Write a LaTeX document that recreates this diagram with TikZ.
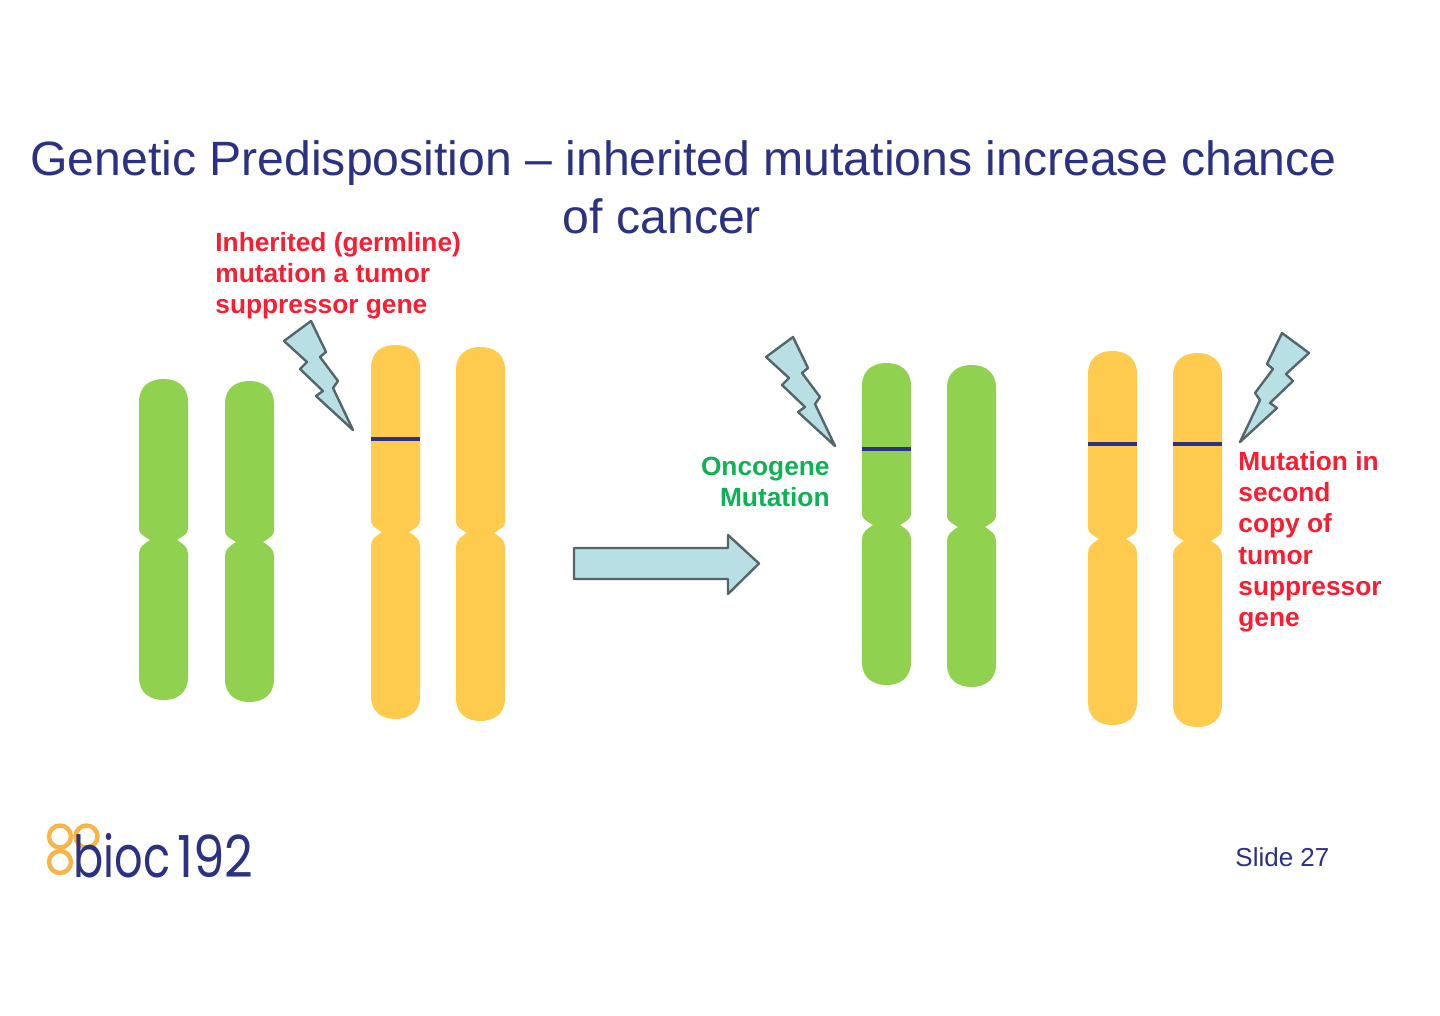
\documentclass[tikz,border=0pt]{standalone}
\usepackage{fontspec}
\setmainfont{Liberation Sans}
\newfontfamily\logofont[FakeStretch=0.77]{Poppins}
\newfontfamily\logonumfont[FakeStretch=0.86]{Poppins}
\definecolor{chromgreen}{HTML}{90D14F}
\definecolor{chromyellow}{HTML}{FECB4E}
\definecolor{navy}{HTML}{2B3183}
\definecolor{redtxt}{HTML}{FA1C30}
\definecolor{greentxt}{HTML}{0DB254}
\definecolor{paleblue}{HTML}{B8DFE4}
\definecolor{edgegrey}{HTML}{55666A}
\definecolor{logoorange}{HTML}{F9B347}
\tikzset{
  titletext/.style={inner sep=0pt,font=\fontsize{24.08}{29}\selectfont,text=navy,anchor=base},
  redlabel/.style={inner sep=0pt,font=\fontsize{13.15}{15.6}\selectfont\bfseries,text=redtxt,align=left,anchor=north west},
  greenlabel/.style={inner sep=0pt,font=\fontsize{13.15}{15.6}\selectfont\bfseries,text=greentxt,align=right,anchor=north east},
  flash/.style={fill=paleblue,draw=edgegrey,line width=1.2pt,line join=round},
  band/.style={draw=navy,line width=2.4pt},
  ring/.style={draw=logoorange,line width=2.2pt}
}
% x, top, centromere, bottom, colour
\newcommand{\chromo}[5]{%
  \fill[#5] (#1,#3-11)
    -- (#1,#2+23) .. controls (#1,#2+7) and (#1+11,#2) .. (#1+24.5,#2)
    .. controls (#1+38,#2) and (#1+49,#2+7) .. (#1+49,#2+23)
    -- (#1+49,#3-11) .. controls (#1+49,#3-6) and (#1+44,#3-4) .. (#1+38,#3)
    .. controls (#1+44,#3+4) and (#1+49,#3+7) .. (#1+49,#3+14)
    -- (#1+49,#4-23) .. controls (#1+49,#4-7) and (#1+38,#4) .. (#1+24.5,#4)
    .. controls (#1+11,#4) and (#1,#4-7) .. (#1,#4-23)
    -- (#1,#3+14) .. controls (#1,#3+7) and (#1+5,#3+4) .. (#1+11,#3)
    .. controls (#1+5,#3-4) and (#1,#3-6) .. (#1,#3-11) -- cycle;}
\newcommand{\flashshape}{(311,321) -- (284,341) -- (307,362) -- (300,369) -- (323,391) -- (316,396) -- (353,430) -- (333,388) -- (338,381) -- (320,357) -- (326,352) -- cycle}
\begin{document}
\begin{tikzpicture}[x=0.5pt,y=-0.5pt]
\useasboundingbox (0,0) rectangle (1440,1016);
\fill[white] (0,0) rectangle (1440,1016);
\node[titletext] (title1) at (683.5,176) {Genetic Predisposition – inherited mutations increase chance};
\node[titletext] (title2) at (662,234) {of cancer};
\node[redlabel] (inherited) at (215,232) {Inherited (germline)\\mutation a tumor\\suppressor gene};
\chromo{139}{379}{540}{700}{chromgreen}
\chromo{225}{381}{542}{702}{chromgreen}
\chromo{371}{345}{532}{719}{chromyellow}
\chromo{456}{347}{533}{721}{chromyellow}
\chromo{862}{363}{525}{685}{chromgreen}
\chromo{947}{365}{527}{687}{chromgreen}
\chromo{1088}{351}{539}{725}{chromyellow}
\chromo{1173}{353}{541}{727}{chromyellow}
\draw[band] (371,439) -- (420,439);
\draw[band] (862,449) -- (911,449);
\draw[band] (1088,444) -- (1137,444);
\draw[band] (1173,444) -- (1222,444);
\draw[flash] \flashshape;
\begin{scope}[shift={(482,16)}]
\draw[flash] \flashshape;
\end{scope}
\begin{scope}[xscale=-1,shift={(-1593,12)}]
\draw[flash] \flashshape;
\end{scope}
\draw[flash] (574,548) -- (728,548) -- (728,535) -- (759,563.5) -- (728,594) -- (728,579) -- (574,579) -- cycle;
\node[greenlabel] (onco) at (830,457) {Oncogene\\Mutation};
\node[redlabel] (second) at (1238,451) {Mutation in\\second\\copy of\\tumor\\suppressor\\gene};
\draw[ring] (60,836.5) circle (11);
\draw[ring] (86.5,836.5) circle (11);
\draw[ring] (60,862) circle (11);
\node[inner sep=0pt,anchor=base west,font=\fontsize{29}{29}\logofont,text=navy] (logoa) at (73,877) {bioc};
\node[inner sep=0pt,anchor=base west,font=\fontsize{29}{29}\logonumfont,text=navy] (logob) at (177,877) {192};
\node[inner sep=0pt,anchor=base west,font=\fontsize{13}{15}\selectfont,text=navy] (slide) at (1235,866) {Slide 27};
\end{tikzpicture}
\end{document}
